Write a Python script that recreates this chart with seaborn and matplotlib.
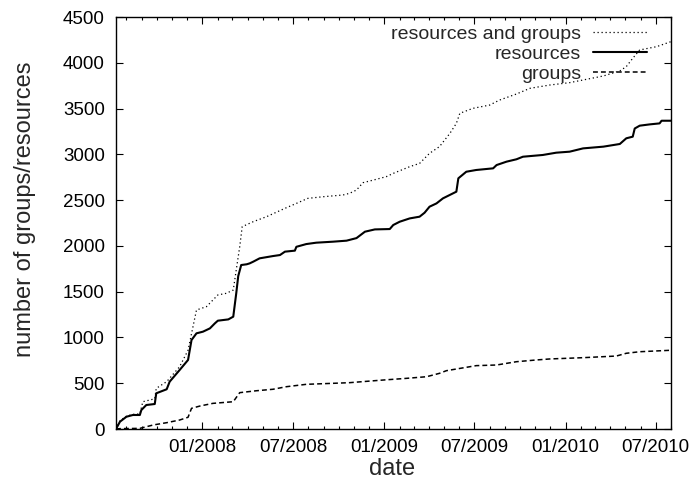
import matplotlib
matplotlib.use("Agg")
import matplotlib.pyplot as plt
import matplotlib.dates as mdates
import pandas as pd
import seaborn as sns

# Cumulative counts over time
res_dates = [
    "2007-07-11", "2007-07-19", "2007-08-01", "2007-08-14", "2007-08-28", "2007-08-31",
    "2007-09-10", "2007-09-27", "2007-09-30", "2007-10-21", "2007-10-27", "2007-11-16",
    "2007-12-03", "2007-12-10", "2007-12-20", "2008-01-02", "2008-01-16", "2008-01-26",
    "2008-02-01", "2008-02-22", "2008-03-03", "2008-03-09", "2008-03-13", "2008-03-19",
    "2008-03-30", "2008-04-05", "2008-04-12", "2008-04-25", "2008-05-22", "2008-06-05",
    "2008-06-15", "2008-07-05", "2008-07-08", "2008-07-28", "2008-08-17", "2008-09-20",
    "2008-10-17", "2008-11-06", "2008-11-23", "2008-12-13", "2009-01-12", "2009-01-19",
    "2009-02-01", "2009-02-21", "2009-03-13", "2009-03-23", "2009-04-02", "2009-04-16",
    "2009-04-29", "2009-05-26", "2009-05-30", "2009-06-15", "2009-07-05", "2009-08-08",
    "2009-08-15", "2009-09-04", "2009-09-24", "2009-10-07", "2009-11-16", "2009-12-13",
    "2010-01-09", "2010-02-05", "2010-03-18", "2010-04-20", "2010-05-03", "2010-05-16",
    "2010-05-20", "2010-05-30", "2010-06-19", "2010-07-09", "2010-07-13", "2010-08-01",
]
resources = [
    0, 80, 134, 153, 153, 207,
    262, 273, 390, 434, 517, 644,
    754, 972, 1045, 1063, 1099, 1154,
    1183, 1197, 1227, 1482, 1670, 1791,
    1799, 1809, 1827, 1864, 1889, 1900,
    1937, 1948, 1990, 2020, 2035, 2046,
    2057, 2085, 2155, 2180, 2184, 2228,
    2264, 2300, 2319, 2362, 2428, 2464,
    2519, 2592, 2738, 2810, 2829, 2847,
    2883, 2920, 2946, 2974, 2993, 3018,
    3029, 3065, 3084, 3113, 3175, 3193,
    3282, 3313, 3327, 3338, 3367, 3367,
]

grp_dates = [
    "2007-07-11", "2007-07-19", "2007-08-28", "2007-09-24", "2007-10-21", "2007-11-16",
    "2007-12-03", "2007-12-10", "2007-12-27", "2008-01-22", "2008-03-03", "2008-03-16",
    "2008-04-19", "2008-05-22", "2008-06-18", "2008-07-28", "2008-09-20", "2008-10-23",
    "2008-12-30", "2009-02-14", "2009-03-27", "2009-04-22", "2009-05-06", "2009-07-05",
    "2009-08-15", "2009-09-24", "2009-11-03", "2009-11-30", "2010-02-05", "2010-04-13",
    "2010-05-03", "2010-05-30", "2010-08-01",
]
groups = [
    0, 4, 7, 44, 69, 98,
    128, 226, 251, 280, 298, 397,
    418, 434, 462, 488, 499, 506,
    535, 553, 571, 608, 637, 692,
    699, 735, 754, 765, 779, 797,
    827, 844, 860,
]

tot_dates = [
    "2007-07-11", "2007-07-19", "2007-08-01", "2007-08-14", "2007-08-28", "2007-09-03",
    "2007-09-27", "2007-09-30", "2007-10-21", "2007-11-16", "2007-12-03", "2007-12-20",
    "2008-01-09", "2008-02-01", "2008-02-18", "2008-03-03", "2008-03-09", "2008-03-16",
    "2008-03-21", "2008-04-12", "2008-05-09", "2008-06-15", "2008-07-08", "2008-07-31",
    "2008-08-31", "2008-10-10", "2008-10-23", "2008-11-06", "2008-11-19", "2008-12-10",
    "2009-01-05", "2009-01-19", "2009-02-21", "2009-03-13", "2009-04-02", "2009-04-22",
    "2009-05-13", "2009-05-26", "2009-06-02", "2009-06-28", "2009-08-01", "2009-08-21",
    "2009-09-24", "2009-10-21", "2009-11-30", "2010-01-09", "2010-02-05", "2010-03-18",
    "2010-04-20", "2010-05-03", "2010-05-16", "2010-05-30", "2010-07-03", "2010-08-01",
]
total = [
    0, 90, 140, 160, 165, 298,
    330, 444, 517, 680, 860, 1300,
    1336, 1464, 1482, 1518, 1737, 1991,
    2210, 2264, 2319, 2410, 2464, 2519,
    2537, 2556, 2574, 2610, 2690, 2719,
    2756, 2792, 2865, 2901, 3011, 3084,
    3229, 3338, 3448, 3502, 3538, 3593,
    3659, 3721, 3757, 3783, 3812, 3856,
    3911, 3958, 4049, 4140, 4176, 4231,
]

y_ticks = list(range(0, 4501, 500))
x_start, x_end = "2007-07-11", "2010-08-01"

sns.set_style("ticks")
plt.rcParams["font.family"] = ["Liberation Sans", "DejaVu Sans"]

fig = plt.figure(figsize=(6.92, 4.88), dpi=100)
ax = fig.add_axes([116 / 692, 1 - 429 / 488, 555 / 692, 412 / 488])

sns.lineplot(x=pd.to_datetime(tot_dates), y=total, ax=ax, color="black",
             linewidth=0.9, label="resources and groups")
sns.lineplot(x=pd.to_datetime(res_dates), y=resources, ax=ax, color="black",
             linewidth=1.5, label="resources")
sns.lineplot(x=pd.to_datetime(grp_dates), y=groups, ax=ax, color="black",
             linewidth=1.1, label="groups")
lines = ax.get_lines()
lines[0].set_dashes((1, 2.2))
lines[2].set_dashes((3.2, 2))

ax.set_xlim(pd.Timestamp(x_start), pd.Timestamp(x_end))
ax.set_ylim(0, 4500)
ax.set_yticks(y_ticks)
ax.xaxis.set_major_locator(mdates.MonthLocator(bymonth=[1, 7]))
ax.xaxis.set_minor_locator(mdates.MonthLocator())
ax.xaxis.set_major_formatter(mdates.DateFormatter("%m/%Y"))

for s in ax.spines.values():
    s.set_visible(True)
    s.set_color("black")
    s.set_linewidth(1.0)

ax.tick_params(which="both", direction="in", top=True, right=True,
               colors="black", width=0.8)
ax.tick_params(which="major", length=5)
ax.tick_params(which="minor", length=2.5)
ax.tick_params(axis="x", which="major", labelsize=13.5, pad=7)
ax.tick_params(axis="y", which="major", labelsize=13.5, pad=8)

ax.set_xlabel("date", fontsize=17)
ax.set_ylabel("number of groups/resources", fontsize=17)
ax.xaxis.set_label_coords(0.497, -0.07)
ax.yaxis.set_label_coords(-0.145, 0.534)

leg = ax.legend(loc="upper right", bbox_to_anchor=(0.9715, 0.998),
                markerfirst=False, frameon=False,
                fontsize=14, handlelength=2.8, handletextpad=0.6,
                labelspacing=0.12, borderaxespad=0.0)

fig.savefig("out.png", dpi=100)
